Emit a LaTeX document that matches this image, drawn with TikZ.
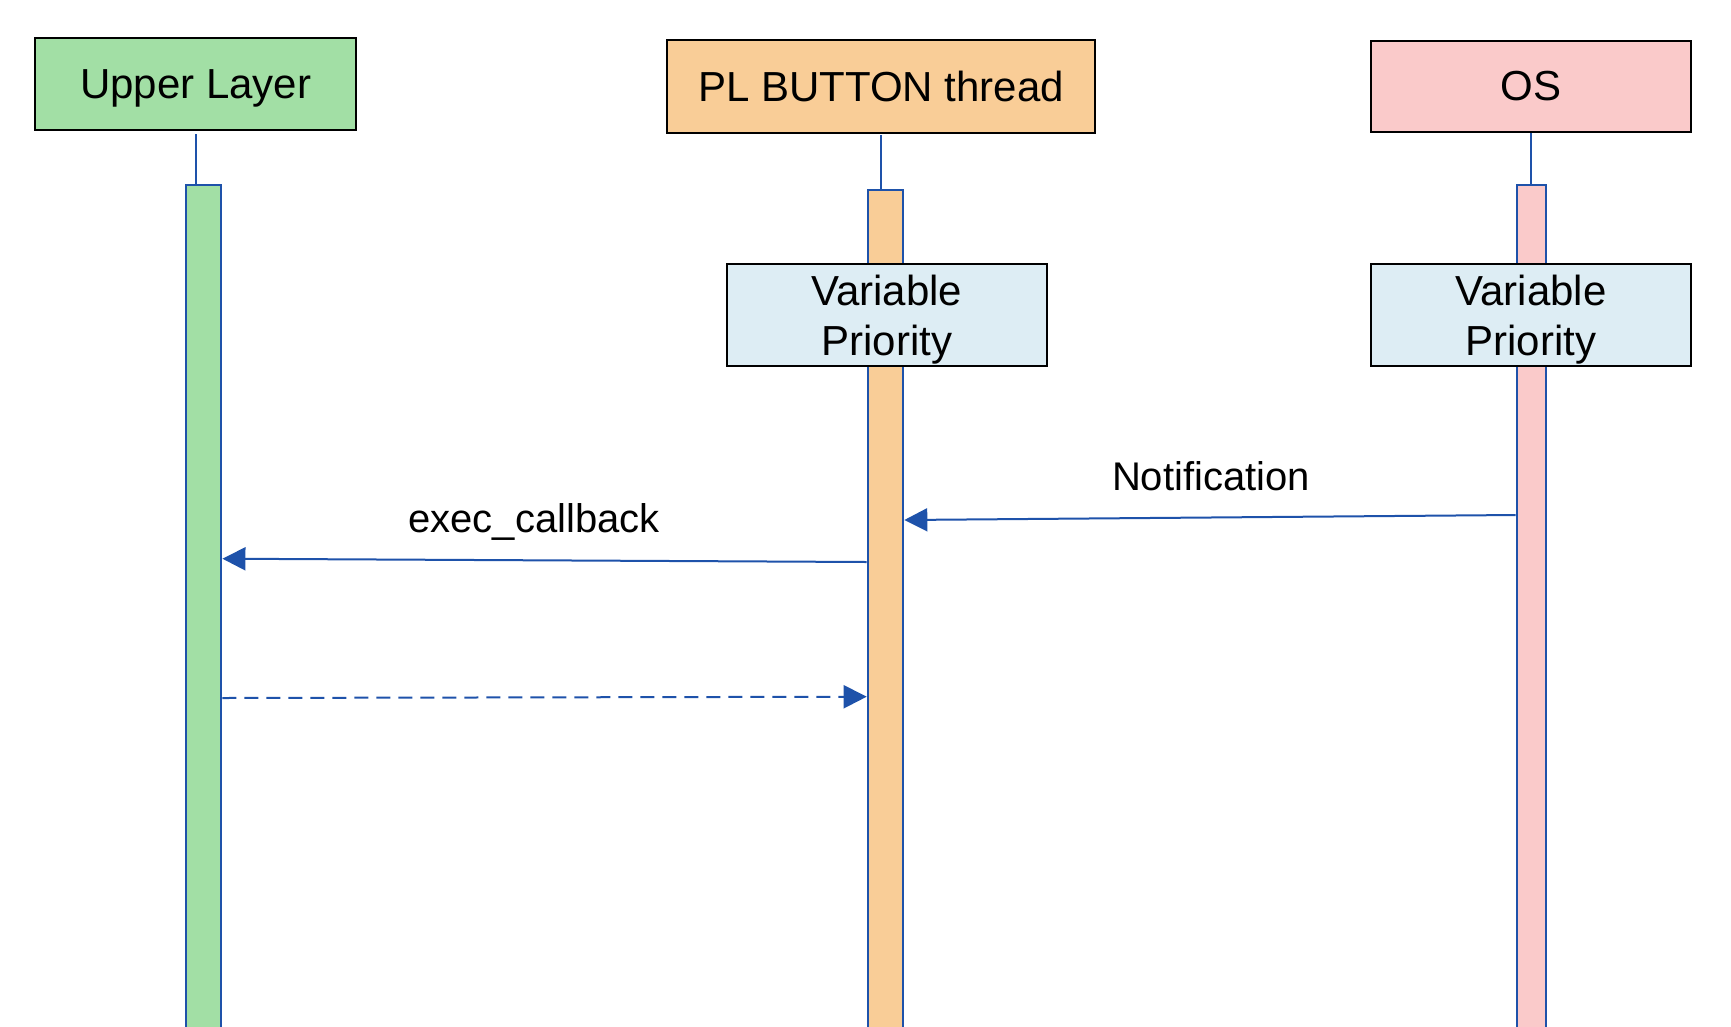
\documentclass[tikz,border=0pt]{standalone}
\usepackage{fontspec}
\setmainfont{Liberation Sans}
\usetikzlibrary{arrows.meta}
\definecolor{ulgreen}{RGB}{162,223,165}
\definecolor{plorange}{RGB}{249,205,151}
\definecolor{ospink}{RGB}{250,202,202}
\definecolor{vpblue}{RGB}{221,237,244}
\definecolor{lineblue}{RGB}{30,82,170}
\begin{document}
\begin{tikzpicture}[x=1pt,y=-1pt,
  headbox/.style={draw=black,line width=2pt,inner sep=0pt,minimum width=320.5pt,minimum height=91.7pt,
    text depth=0pt,font=\fontsize{42}{48}\selectfont},
  vpbox/.style={draw=black,line width=2pt,fill=vpblue,inner sep=0pt,minimum width=320.3pt,minimum height=102pt,
    align=center,text depth=0pt,font=\fontsize{42}{50}\selectfont},
  actbar/.style={draw=lineblue,line width=2pt,inner sep=0pt,anchor=north,minimum height=880pt},
  stem/.style={draw=lineblue,line width=2pt},
  msg/.style={draw=lineblue,line width=2pt,-{Triangle[length=23pt,width=23pt]},color=lineblue},
  msglabel/.style={anchor=base,inner sep=0pt,font=\fontsize{40}{46}\selectfont}]
\useasboundingbox (0,0) rectangle (1731,1026);
% header boxes
\node[headbox,fill=ulgreen] (ul) at (195.7,84.2) {Upper Layer};
\node[headbox,fill=plorange,minimum width=428.6pt,minimum height=92.7pt] (pl) at (881,86.3) {PL BUTTON thread};
\node[headbox,fill=ospink,minimum width=320.3pt,minimum height=91.3pt] (os) at (1530.9,86.3) {OS};
% activation bars
\node[actbar,fill=ulgreen,minimum width=35.7pt] (ulbar) at (203.6,184) {};
\node[actbar,fill=plorange,minimum width=35.6pt] (plbar) at (885.5,188.7) {};
\node[actbar,fill=ospink,minimum width=29.3pt] (osbar) at (1531.3,184) {};
% stems
\draw[stem] (ul.south |- 0,134) -- (ul.south |- ulbar.north);
\draw[stem] (pl.south |- 0,135) -- (pl.south |- plbar.north);
\draw[stem] (os.south) -- (os.south |- osbar.north);
% variable priority boxes
\node[vpbox] (vp1) at (886.8,315) {Variable\\Priority};
\node[vpbox] (vp2) at (1530.9,315) {Variable\\Priority};
% messages
\coordinate (nfrom) at (osbar.west |- 0,515);
\coordinate (nto) at (plbar.east |- 0,520);
\draw[msg] (nfrom) -- (nto);
\node[msglabel] (nlab) at (1211,490) {Notification};
\coordinate (efrom) at (plbar.west |- 0,562);
\coordinate (eto) at (ulbar.east |- 0,558.7);
\draw[msg] (efrom) -- (eto);
\node[msglabel] (elab) at (534,532.7) {exec\_callback};
\coordinate (rfrom) at (ulbar.east |- 0,698);
\coordinate (rto) at (plbar.west |- 0,696.7);
\draw[msg,dash pattern=on 14pt off 8pt] (rfrom) -- (rto);
\end{tikzpicture}
\end{document}
